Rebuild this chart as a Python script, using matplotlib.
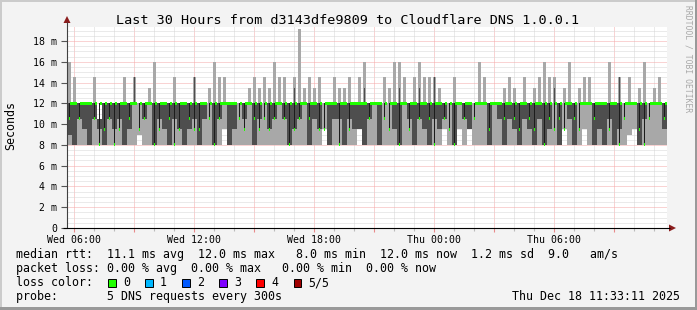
import matplotlib
matplotlib.use("Agg")
import matplotlib.pyplot as plt
from matplotlib.patches import Rectangle, Polygon
import numpy as np

# ---- data: 120 columns of 15 minutes, starting 05:39 Wed (hours since Wed 00:00) ----
t0 = 5.65
col_w = 0.25

hi = [16, 14.5, 12, 12, 12, 14.5, 10.5, 12, 12, 12, 12, 14.5, 12, 14.5, 12, 12, 13.5, 16, 12, 12, 12, 14.5, 12, 12,
      12, 14.5, 12, 12, 13.5, 16, 14.5, 14.5, 12, 12, 12, 12, 13.5, 14.5, 13.5, 14.5, 13.5, 16, 14.5, 14.5, 12, 14.5, 19.2, 13.5,
      14.5, 13.5, 14.5, 12, 12, 14.5, 13.5, 13.5, 14.5, 12, 14.5, 16, 12, 12, 12, 14.5, 13.5, 16, 16, 14.5, 12, 14.5, 16, 14.5,
      14.5, 14.5, 13.5, 12, 12, 14.5, 12, 12, 12, 12, 16, 14.5, 12, 12, 12, 13.5, 14.5, 13.5, 12, 14.5, 12, 13.5, 14.5, 16,
      14.5, 14.5, 12, 13.5, 16, 12, 13.5, 14.5, 14.5, 12, 12, 12, 16, 12, 14.5, 12, 14.5, 12, 13.5, 16, 12, 13.5, 14.5, 12]

p4 = [12, 12, 12, 12, 12, 12, 10.5, 12, 12, 12, 12, 12, 12, 14.5, 12, 12, 12, 12, 12, 12, 12, 12, 12, 12,
      12, 14.5, 12, 12, 12, 12, 12, 12, 12, 12, 12, 12, 12, 12, 12, 12, 12, 12, 12, 12, 12, 13.5, 12, 12,
      12, 12, 12, 12, 12, 12, 12, 12, 12, 12, 12, 13.5, 12, 12, 12, 12, 12, 12, 13.5, 12, 12, 12, 13.5, 12,
      12, 14.5, 12, 12, 12, 12, 12, 12, 12, 12, 12, 12, 12, 12, 12, 12, 12, 12, 12, 12, 12, 12, 12, 12,
      12, 13.5, 12, 12, 12, 12, 12, 12, 12, 12, 12, 12, 12, 12, 14.5, 12, 12, 12, 12, 12, 12, 12, 12, 12]

p2 = [9, 8, 10.5, 9.5, 8, 10.5, 9.5, 8, 10.5, 9.5, 10.5, 8, 9.5, 12, 12, 10.5, 12, 8, 10.5, 9.5, 8, 10.5, 9.5, 8,
      9.5, 10.5, 8, 10.5, 12, 8, 10.5, 12, 8, 9.5, 12, 10.5, 12, 8, 10.5, 12, 9.5, 10.5, 12, 10.5, 8, 9.5, 10.5, 12,
      8, 10.5, 9.5, 12, 8, 10.5, 10.5, 8, 10.5, 9.5, 9.5, 8, 10.5, 12, 8, 12, 12, 9.5, 8, 12, 10.5, 8, 10.5, 9.5,
      8, 10.5, 9.5, 10.5, 12, 8, 12, 10.5, 9.5, 12, 12, 12, 8, 12, 10.5, 8, 10.5, 9.5, 8, 10.5, 9.5, 8, 10.5, 8,
      9.5, 12, 8, 12, 10.5, 8, 12, 12, 12, 8, 9.5, 8, 10.5, 8, 9.5, 12, 12, 12, 8, 10.5, 12, 12, 12, 9.5]

lo = [8, 8, 8, 8, 8, 8, 8, 8, 8, 8, 8, 8, 8, 8, 9, 8, 8, 8, 8, 8, 8, 8, 8, 8,
      8, 8, 8, 8, 8, 8, 8, 9.5, 8, 8, 8, 8, 8, 8, 8, 8, 8, 8, 8, 8, 8, 8, 8, 8,
      8, 8, 8, 9.5, 8, 8, 8, 8, 8, 8, 9.5, 8, 8, 8, 8, 8, 8, 8, 8, 8, 8, 8, 8, 8,
      8, 8, 8, 9.5, 8, 8, 9.5, 8, 9.5, 8, 8, 8, 8, 8, 8, 8, 8, 8, 8, 8, 8, 8, 8, 8,
      8, 8, 8, 9.5, 8, 8, 8, 9.5, 8, 8, 8, 8, 8, 8, 8, 8, 9, 9.5, 8, 8, 8, 8, 8, 8]

med = [10.5, 12, 10.5, 12, 12, 10.5, 8, 9.5, 10.5, 8, 9.5, 12, 10.5, 12, 9.5, 10.5, 12, 8, 9.5, 12, 10.5, 8, 9.5, 12,
       10.5, 9.5, 9.5, 12, 10.5, 8, 10.5, 12, 12, 12, 10.5, 9.5, 12, 10.5, 9.5, 10.5, 9.5, 10.5, 12, 10.5, 8, 9.5, 10.5, 12,
       10.5, 12, 9.5, 9.5, 12, 12, 8, 12, 9.5, 12, 12, 12, 10.5, 12, 12, 10.5, 9.5, 12, 8, 12, 9.5, 12, 10.5, 12,
       10.5, 8, 12, 10.5, 9.5, 8, 12, 10.5, 12, 10.5, 12, 12, 9.5, 12, 12, 10.5, 12, 10.5, 9.5, 12, 10.5, 9.5, 12, 8,
       10.5, 9.5, 10.5, 9.5, 12, 10.5, 9.5, 12, 12, 10.5, 12, 12, 9.5, 12, 8, 10.5, 12, 12, 9.5, 8, 10.5, 12, 12, 10.5]

x_labels = {6: "Wed 06:00", 12: "Wed 12:00", 18: "Wed 18:00", 24: "Thu 00:00", 30: "Thu 06:00"}
loss_names = ["0", "1", "2", "3", "4", "5/5"]
loss_colors = ["#20ff00", "#00b8ff", "#0059ff", "#7e00ff", "#ff0000", "#a00000"]

title = "Last 30 Hours from d3143dfe9809 to Cloudflare DNS 1.0.0.1"
legend_lines = [
    "median rtt:  11.1 ms avg  12.0 ms max   8.0 ms min  12.0 ms now  1.2 ms sd  9.0   am/s",
    "packet loss: 0.00 % avg  0.00 % max   0.00 % min  0.00 % now",
    "loss color:",
    "probe:       5 DNS requests every 300s",
]
stamp = "Thu Dec 18 11:33:11 2025"

# ---- figure ----
W, H = 697, 310
MONO = "DejaVu Sans Mono"
fig = plt.figure(figsize=(W / 100, H / 100), dpi=100)
fig.patch.set_facecolor("#f3f3f3")

# background / frame layer in pixel coords
bg = fig.add_axes([0, 0, 1, 1], zorder=0)
bg.set_xlim(0, W)
bg.set_ylim(H, 0)
bg.axis("off")
bg.add_patch(Rectangle((0, 0), W, 2, color="#cbcbcb", lw=0))
bg.add_patch(Rectangle((0, 0), 2, H, color="#cbcbcb", lw=0))
bg.add_patch(Rectangle((0, H - 3), W, 3, color="#999999", lw=0))
bg.add_patch(Rectangle((W - 2, 0), 2, H, color="#999999", lw=0))

ax = fig.add_axes([67 / W, 1 - 228 / H, 600 / W, (228 - 27) / H], zorder=1)
ax.set_facecolor("white")
ax.set_xlim(t0, t0 + 30)
ax.set_ylim(0, 19.35)

xs = t0 + np.arange(len(hi)) * col_w
hi_a, lo_a, p2_a, p4_a, med_a = map(np.array, (hi, lo, p2, p4, med))
light, dark = "#a8a8a8", "#4e4e4e"

# smoke: body up to 12 over the full column, spikes above 12 narrower
body_top = np.minimum(hi_a, 12)
ax.bar(xs, body_top - lo_a, col_w, lo_a, align="edge", color=light, lw=0, antialiased=False, zorder=3)
up = hi_a > 12
ax.bar(xs[up] + col_w * 0.25, hi_a[up] - 12, col_w * 0.5, 12, align="edge", color=light, lw=0,
       antialiased=False, zorder=3)
dtop = np.minimum(p4_a, 12)
ax.bar(xs, dtop - p2_a, col_w, p2_a, align="edge", color=dark, lw=0, antialiased=False, zorder=4)
dup = p4_a > 12
ax.bar(xs[dup] + col_w * 0.35, p4_a[dup] - 12, col_w * 0.3, 12, align="edge", color=dark, lw=0,
       antialiased=False, zorder=4)

# median: full-width at 12, lower medians shown in the middle third of the column
third = col_w / 3
low = med_a < 12
gh = 0.3
ax.bar(xs[~low], gh, col_w, med_a[~low] - gh / 2, align="edge", color=loss_colors[0], lw=0,
       antialiased=False, zorder=6)
ax.bar(xs[low] + third, 12 - med_a[low], third * 0.6, med_a[low], align="edge", color="#1c1c1c", lw=0,
       antialiased=False, zorder=5)
ax.bar(xs[low] + 2 * third, gh, third, 12 - gh / 2, align="edge", color=loss_colors[0], lw=0,
       antialiased=False, zorder=6)
ax.bar(xs[low] + third, gh, third, med_a[low] - gh / 2, align="edge", color=loss_colors[0], lw=0,
       antialiased=False, zorder=6)

# ticks and grid
maj_x = np.arange(6, 36, 3)
ax.set_xticks(maj_x)
ax.set_xticklabels([x_labels.get(int(v), "") for v in maj_x], family=MONO, fontsize=7.1)
ax.set_xticks(np.arange(6, 36, 1), minor=True)
ax.set_yticks(np.arange(0, 19, 2))
ax.set_yticklabels(["0"] + [f"{v} m" for v in range(2, 19, 2)], family=MONO, fontsize=7.1)
ax.set_yticks(np.arange(0, 19.3, 0.5), minor=True)
ax.tick_params(axis="x", which="major", length=3, width=0.8, color="#e88a8a", pad=2)
ax.tick_params(axis="x", which="minor", length=2, width=0.8, color="#bbbbbb")
ax.tick_params(axis="y", which="major", length=4, width=0.8, color="#555555", pad=3)
ax.tick_params(axis="y", which="minor", length=0)
ax.grid(which="minor", color="#d6d6d6", linestyle=(0, (1, 1)), linewidth=0.72, zorder=1)
ax.grid(which="major", color="#f4a8a8", linestyle=(0, (1, 1)), linewidth=0.72, zorder=2)
ax.set_axisbelow(True)
for s in ax.spines.values():
    s.set_visible(False)

# overlay for axis lines, arrows and text
ov = fig.add_axes([0, 0, 1, 1], zorder=2)
ov.set_xlim(0, W)
ov.set_ylim(H, 0)
ov.axis("off")
ov.patch.set_alpha(0)
ov.plot([67, 67], [228, 22], color="#404040", lw=0.8, solid_capstyle="butt")
ov.plot([63, 670], [228, 228], color="#000000", lw=0.8, solid_capstyle="butt")
ov.add_patch(Polygon([[63.5, 23], [70.5, 23], [67, 16]], closed=True, color="#8b1c1c", lw=0))
ov.add_patch(Polygon([[669, 224.5], [669, 231.5], [676, 228]], closed=True, color="#8b1c1c", lw=0))

ov.text(348, 20, title, family=MONO, fontsize=9.7, ha="center", va="center")
ov.text(10.5, 125, "Seconds", family=MONO, fontsize=8.4, rotation=90, ha="center", va="center")
ov.text(688, 5, "RRDTOOL / TOBI OETIKER", family=MONO, fontsize=5.8, rotation=270,
        ha="center", va="top", color="#a8a8a8")

for i, line in enumerate(legend_lines):
    ov.text(16, 254.5 + i * 14, line, family=MONO, fontsize=8.4, ha="left", va="center")
for i, (name, c) in enumerate(zip(loss_names, loss_colors)):
    sx = 108 + i * 37.1
    ov.add_patch(Rectangle((sx, 279), 7.5, 7.5, facecolor=c, edgecolor="black", lw=0.7))
    ov.text(sx + 15, 282.5, name, family=MONO, fontsize=8.4, ha="left", va="center")
ov.text(680, 296.5, stamp, family=MONO, fontsize=8.4, ha="right", va="center")

fig.savefig("out.png", dpi=100, facecolor=fig.get_facecolor())
